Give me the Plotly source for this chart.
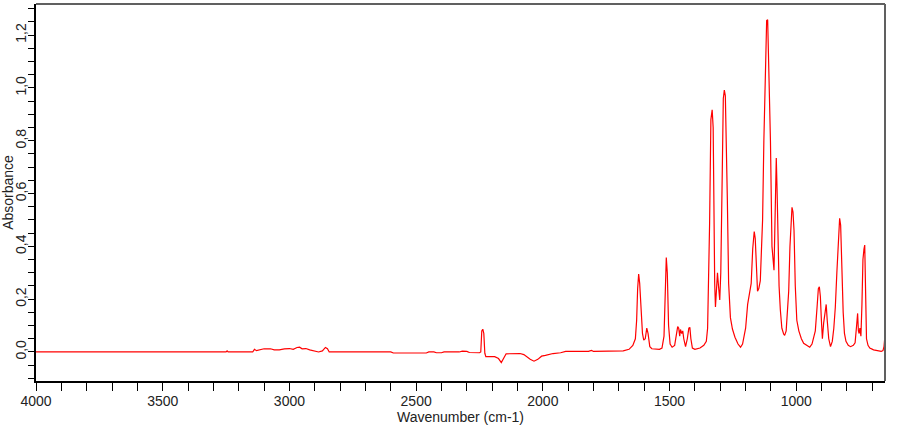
import plotly.graph_objects as go

# Wavenumber (cm-1) and absorbance
wavenumber = [
    4000, 3800, 3700, 3500, 3250, 3246, 3242, 3145, 3138, 3130, 3115, 3100, 3075, 3060,
    3040, 3020, 3000, 2985, 2970, 2960, 2950, 2935, 2920, 2900, 2885, 2870, 2858, 2850,
    2843, 2600, 2590, 2460, 2450, 2430, 2420, 2400, 2390, 2370, 2330, 2318, 2300, 2290,
    2250, 2245, 2241, 2237, 2233, 2229, 2225, 2190, 2175, 2164, 2155, 2145, 2090, 2075,
    2050, 2035, 2020, 2005, 1990, 1960, 1930, 1910, 1820, 1808, 1800, 1700, 1683, 1660,
    1645, 1635, 1630, 1626, 1622, 1618, 1613, 1607, 1602, 1596, 1590, 1585, 1578, 1570,
    1540, 1530, 1522, 1517, 1513, 1509, 1504, 1498, 1490, 1480, 1474, 1468, 1464, 1460,
    1457, 1452, 1448, 1444, 1437, 1430, 1424, 1420, 1416, 1410, 1400, 1380, 1365, 1355,
    1350, 1346, 1342, 1337, 1332, 1328, 1325, 1322, 1319, 1314, 1311, 1307, 1302, 1298,
    1295, 1292, 1288, 1284, 1280, 1276, 1272, 1267, 1260, 1252, 1242, 1230, 1220, 1212,
    1205, 1200, 1192, 1185, 1178, 1172, 1166, 1162, 1158, 1153, 1148, 1142, 1137, 1133,
    1128, 1124, 1120, 1117, 1113, 1110, 1106, 1102, 1096, 1091, 1088, 1085, 1082, 1079,
    1076, 1072, 1068, 1063, 1057, 1050, 1046, 1040, 1035, 1030, 1025, 1021, 1017, 1013,
    1009, 1004, 998, 990, 980, 971, 958, 947, 938, 930, 925, 918, 913, 909,
    905, 901, 897, 892, 887, 882, 878, 872, 865, 858, 852, 846, 840, 834,
    829, 825, 820, 815, 810, 804, 795, 786, 775, 768, 762, 758, 755, 752,
    749, 745, 741, 737, 733, 730, 727, 723, 717, 710, 695, 680, 665, 658,
    654, 651,
]
absorbance = [
    0.0, 0.0, 0.001, 0.0, 0.0, 0.004, 0.0, 0.0, 0.01, 0.005, 0.01, 0.012, 0.012, 0.008,
    0.008, 0.012, 0.013, 0.01, 0.017, 0.018, 0.012, 0.013, 0.008, 0.005, 0.0, 0.004, 0.017, 0.012,
    0.0, 0.0, -0.004, -0.004, 0.0, 0.0, -0.003, -0.003, 0.0, 0.0, 0.0, 0.003, 0.002, -0.002,
    -0.003, 0.0, 0.08, 0.086, 0.07, -0.005, -0.018, -0.018, -0.025, -0.04, -0.025, -0.007, -0.006, -0.01,
    -0.028, -0.035, -0.028, -0.016, -0.013, -0.006, -0.003, 0.002, 0.002, 0.006, 0.002, 0.002, 0.004, 0.01,
    0.025, 0.05, 0.12, 0.24, 0.295, 0.26, 0.15, 0.07, 0.045, 0.05, 0.09, 0.07, 0.02, 0.012,
    0.01, 0.015, 0.06, 0.25, 0.358, 0.3, 0.1, 0.03, 0.018, 0.025, 0.07, 0.096, 0.09, 0.06,
    0.085, 0.07, 0.08, 0.05, 0.02, 0.05, 0.09, 0.093, 0.05, 0.015, 0.01, 0.015, 0.025, 0.04,
    0.09, 0.26, 0.49, 0.88, 0.917, 0.85, 0.49, 0.26, 0.17, 0.28, 0.30, 0.25, 0.197, 0.3,
    0.44, 0.69, 0.96, 0.992, 0.97, 0.80, 0.575, 0.26, 0.13, 0.087, 0.056, 0.03, 0.018, 0.03,
    0.06, 0.09, 0.18, 0.22, 0.26, 0.39, 0.456, 0.43, 0.3, 0.23, 0.24, 0.27, 0.40, 0.50,
    0.80, 0.93, 1.12, 1.255, 1.258, 1.13, 0.95, 0.80, 0.40, 0.33, 0.31, 0.45, 0.70, 0.735,
    0.62, 0.37, 0.25, 0.16, 0.09, 0.068, 0.063, 0.08, 0.14, 0.23, 0.40, 0.49, 0.548, 0.53,
    0.46, 0.25, 0.12, 0.08, 0.05, 0.033, 0.025, 0.018, 0.03, 0.055, 0.08, 0.17, 0.24, 0.247,
    0.21, 0.12, 0.05, 0.11, 0.16, 0.18, 0.12, 0.05, 0.02, 0.04, 0.09, 0.17, 0.30, 0.44,
    0.506, 0.48, 0.30, 0.15, 0.07, 0.04, 0.025, 0.02, 0.025, 0.035, 0.1, 0.146, 0.08, 0.07,
    0.09, 0.06, 0.18, 0.35, 0.39, 0.405, 0.25, 0.05, 0.025, 0.015, 0.008, 0.006, 0.002, 0.005,
    0.02, 0.053,
]

x_title = "Wavenumber (cm-1)"
y_title = "Absorbance"

font_family = "Arial, Liberation Sans, sans-serif"

fig = go.Figure()
fig.add_trace(go.Scatter(
    x=wavenumber, y=absorbance, mode="lines",
    line=dict(color="#ff0000", width=1.2),
    showlegend=False, hoverinfo="x+y",
))

fig.update_layout(
    width=910, height=425,
    margin=dict(l=36, r=25, t=4, b=44, pad=0),
    paper_bgcolor="white", plot_bgcolor="white",
    separators=",.",
    font=dict(family=font_family, size=14, color="#222222"),
    xaxis=dict(
        range=[4000, 650], showgrid=False, zeroline=False,
        showline=True, linecolor="black", linewidth=1.5, mirror=False,
        ticks="outside", ticklen=8, tickcolor="black", tickwidth=1,
        tick0=0, dtick=500, tickformat="d", ticklabelstandoff=-2,
        minor=dict(dtick=100, ticks="outside", ticklen=8, tickcolor="black", tickwidth=1, showgrid=False),
        tickfont=dict(size=14, color="#222222"),
        title=dict(text=x_title, font=dict(size=14, color="#222222"), standoff=2),
        automargin=False,
    ),
    yaxis=dict(
        range=[-0.11, 1.318], showgrid=False, zeroline=False,
        showline=True, linecolor="black", linewidth=1.5, mirror=False,
        ticks="outside", ticklen=6, tickcolor="black", tickwidth=1,
        tick0=0, dtick=0.2, tickformat=".1f", tickangle=-90, ticklabelstandoff=-3,
        minor=dict(dtick=0.05, ticks="outside", ticklen=6, tickcolor="black", tickwidth=1, showgrid=False),
        tickfont=dict(size=14, color="#222222"),
        title=dict(text=y_title, font=dict(size=14, color="#222222"), standoff=0),
        automargin=False,
    ),
    shapes=[
        dict(type="line", xref="x domain", yref="y domain", x0=0, x1=1, y0=1, y1=1,
             line=dict(color="#606060", width=2)),
        dict(type="line", xref="x domain", yref="y domain", x0=1, x1=1, y0=0, y1=1,
             line=dict(color="#606060", width=2)),
    ],
)

fig.write_html("out.html")
